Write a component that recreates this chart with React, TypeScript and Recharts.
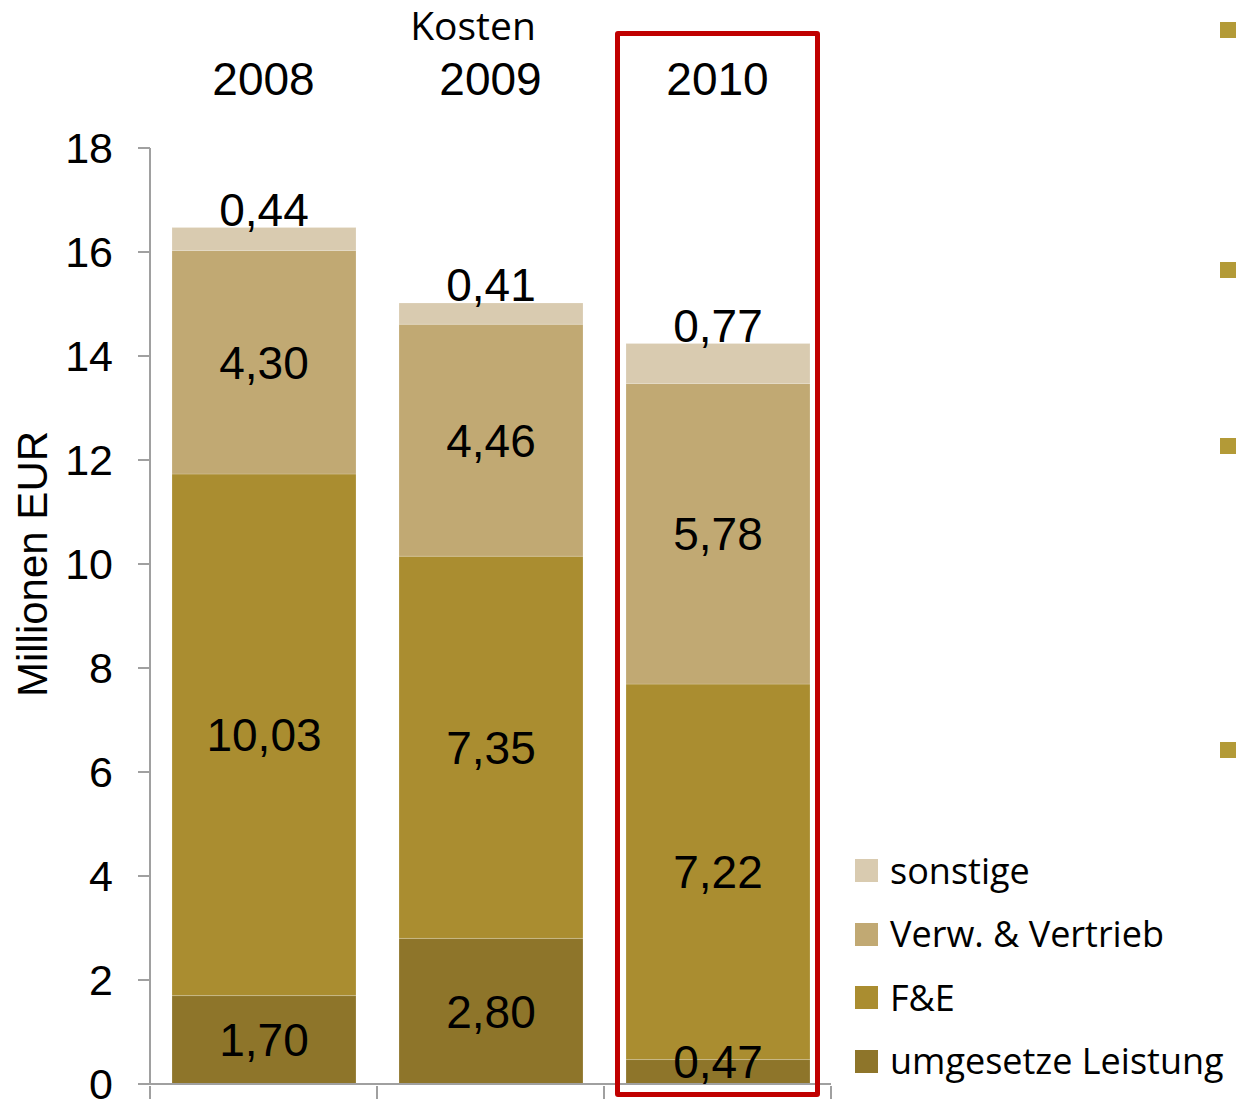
import { Bar, BarChart, LabelList, Label, XAxis, YAxis } from 'recharts';

const years = ['2008', '2009', '2010'];
const umgesetzt = [1.7, 2.8, 0.47];
const fue = [10.03, 7.35, 7.22];
const verwVertrieb = [4.3, 4.46, 5.78];
const sonstige = [0.44, 0.41, 0.77];
const yTicks = [0, 2, 4, 6, 8, 10, 12, 14, 16, 18];

const seriesNames = ['umgesetze Leistung', 'F&E', 'Verw. & Vertrieb', 'sonstige'];
const seriesKeys = ['umgesetzt', 'fue', 'verw', 'sonstige'];
const seriesColors = ['#8e752a', '#aa8d30', '#c1a973', '#d9cbb0'];

const data = years.map((year, i) => ({
  year,
  umgesetzt: umgesetzt[i],
  fue: fue[i],
  verw: verwVertrieb[i],
  sonstige: sonstige[i],
}));

const NUM_FONT = "'Liberation Sans', Arial, sans-serif";
const TEXT_FONT = "'Open Sans', 'Noto Sans', sans-serif";
const AXIS_GREY = '#a0a0a0';

const fmt = (v: unknown) => Number(v).toFixed(2).replace('.', ',');

// labels in the middle of a segment; thin segments get their label lifted a bit
function SegmentLabel(props: any) {
  const { x, y, width, height, value } = props;
  const cx = Number(x) + Number(width) / 2;
  let cy = Number(y) + Number(height) / 2;
  if (Math.abs(Number(height)) < 40) cy -= 10;
  return (
    <text
      x={cx}
      y={cy}
      dy="0.355em"
      textAnchor="middle"
      style={{ fontSize: 46, fill: '#000', fontFamily: NUM_FONT }}
    >
      {fmt(value)}
    </text>
  );
}

function BoundaryTick(props: any) {
  const { x, y, payload, index, visibleTicksCount } = props;
  const half = payload?.offset ?? 113.5;
  const last = index === visibleTicksCount - 1;
  return (
    <g>
      <line x1={x - half} x2={x - half} y1={y} y2={y + 15} stroke={AXIS_GREY} strokeWidth={2} />
      {last && <line x1={x + half} x2={x + half} y1={y} y2={y + 15} stroke={AXIS_GREY} strokeWidth={2} />}
    </g>
  );
}

function CostLegend() {
  const order = [3, 2, 1, 0];
  return (
    <div
      style={{
        position: 'absolute',
        left: 855,
        top: 839,
        fontFamily: TEXT_FONT,
        fontSize: 36,
        color: '#000',
      }}
    >
      {order.map((i) => (
        <div key={seriesKeys[i]} style={{ display: 'flex', alignItems: 'center', height: 63.5 }}>
          <span style={{ width: 23, height: 23, background: seriesColors[i], marginRight: 12, flex: 'none' }} />
          <span style={{ whiteSpace: 'nowrap', lineHeight: '40px' }}>{seriesNames[i]}</span>
        </div>
      ))}
    </div>
  );
}

export default function App() {
  const bullets = [30, 270, 446, 750];
  return (
    <div style={{ position: 'absolute', left: 0, top: 0, width: 1236, height: 1099, background: '#fff', overflow: 'hidden' }}>
      <BarChart
        width={1236}
        height={1099}
        data={data}
        margin={{ top: 0, right: 405, bottom: 0, left: 0 }}
        barSize={184}
      >
        <XAxis
          xAxisId="top"
          orientation="top"
          dataKey="year"
          height={148}
          axisLine={false}
          tickLine={false}
          tickSize={0}
          tickMargin={53}
          tick={{ fontSize: 46, fill: '#000', fontFamily: NUM_FONT }}
        />
        <XAxis
          dataKey="year"
          height={15}
          axisLine={{ stroke: AXIS_GREY, strokeWidth: 2 }}
          tickLine={false}
          tick={<BoundaryTick />}
          tickSize={0}
        />
        <YAxis
          width={150}
          domain={[0, 18]}
          ticks={yTicks}
          interval={0}
          tickSize={12}
          tickMargin={25}
          axisLine={{ stroke: AXIS_GREY, strokeWidth: 2 }}
          tickLine={{ stroke: AXIS_GREY, strokeWidth: 2 }}
          tick={{ fontSize: 43, fill: '#000', fontFamily: NUM_FONT }}
        >
          <Label
            value="Millionen EUR"
            angle={-90}
            position="center"
            dx={-43}
            dy={-52}
            style={{ fontSize: 42, fill: '#000', fontFamily: NUM_FONT, textAnchor: 'middle' }}
          />
        </YAxis>
        {seriesKeys.map((key, i) => (
          <Bar
            key={key}
            dataKey={key}
            name={seriesNames[i]}
            stackId="kosten"
            fill={seriesColors[i]}
            stroke="rgba(255,255,255,0.18)"
            strokeWidth={1}
            isAnimationActive={false}
          >
            {key === 'sonstige' ? (
              <LabelList
                dataKey={key}
                position="top"
                offset={2}
                formatter={fmt}
                style={{ fontSize: 46, fill: '#000', fontFamily: NUM_FONT }}
              />
            ) : (
              <LabelList dataKey={key} content={<SegmentLabel />} />
            )}
          </Bar>
        ))}
      </BarChart>

      <CostLegend />

      <div
        style={{
          position: 'absolute',
          left: 473,
          top: 4,
          transform: 'translateX(-50%)',
          fontFamily: TEXT_FONT,
          fontSize: 39,
          lineHeight: '42px',
          color: '#000',
          whiteSpace: 'nowrap',
        }}
      >
        Kosten
      </div>

      <div
        style={{
          position: 'absolute',
          left: 615,
          top: 31,
          width: 205,
          height: 1066,
          boxSizing: 'border-box',
          border: '5px solid #c00000',
          borderRadius: 3,
          pointerEvents: 'none',
        }}
      />

      {bullets.map((cy) => (
        <div
          key={cy}
          style={{ position: 'absolute', left: 1220, top: cy - 8, width: 16, height: 16, background: '#b39a37' }}
        />
      ))}
    </div>
  );
}
